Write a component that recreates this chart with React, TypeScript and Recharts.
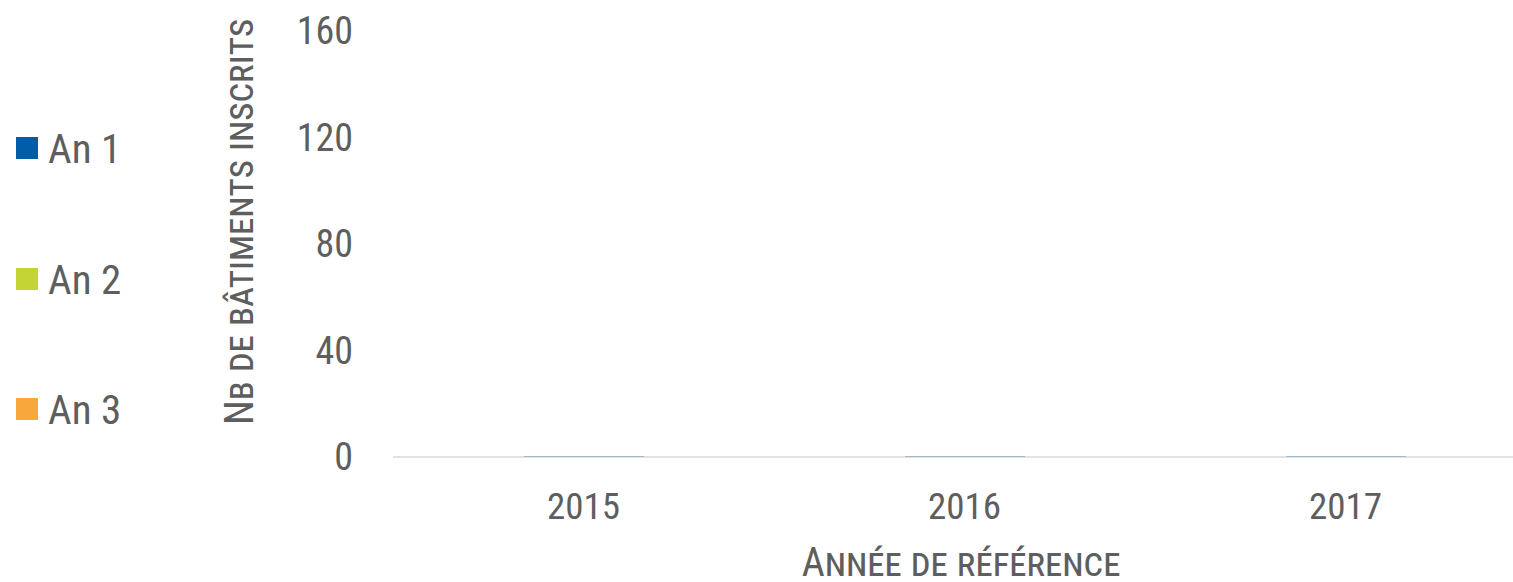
import React from "react";
import { BarChart, Bar, XAxis, YAxis, Legend } from "recharts";

const categories = ["2015", "2016", "2017"];
const an1 = [0.4, 0.4, 0.4];
const an2 = [0, 0, 0];
const an3 = [0, 0, 0];
const yTicks = [0, 40, 80, 120, 160];
const seriesNames = ["An 1", "An 2", "An 3"];
const seriesColors = ["#005DAA", "#C4D432", "#F8A73B"];

const data = categories.map((c, i) => ({
  year: c,
  [seriesNames[0]]: an1[i],
  [seriesNames[1]]: an2[i],
  [seriesNames[2]]: an3[i],
}));

const FONT = "'Liberation Sans Narrow', 'Roboto Condensed', Roboto, sans-serif";
const TEXT = "#5e5e5e";

const legendCenters = [148, 279, 409];

const LegendContent = (props: any) => {
  const payload = props.payload || [];
  return (
    <svg width={200} height={582} style={{ display: "block" }}>
      {payload.map((p: any, i: number) => (
        <g key={p.value}>
          <rect x={16} y={legendCenters[i] - 11} width={22} height={22} fill={p.color} />
          <text
            x={48}
            y={legendCenters[i] + 14.5}
            fontFamily={FONT}
            fontSize={41}
            fill={TEXT}
          >
            {p.value}
          </text>
        </g>
      ))}
    </svg>
  );
};

export default function App() {
  return (
    <div
      style={{
        position: "fixed",
        left: 0,
        top: 0,
        width: 1513,
        height: 582,
        overflow: "hidden",
        background: "#fff",
      }}
    >
      <BarChart
        width={1545}
        height={582}
        data={data}
        margin={{ top: 31, right: 9, bottom: 0, left: 0 }}
      >
        <XAxis
          dataKey="year"
          height={125}
          tickSize={0}
          tickMargin={36}
          axisLine={{ stroke: "#D9D9D9", strokeWidth: 1.5 }}
          tickLine={false}
          tick={{ fontFamily: FONT, fontSize: 37, fill: TEXT }}
        />
        <YAxis
          width={193}
          domain={[0, 160]}
          ticks={yTicks}
          tickSize={0}
          tickMargin={40}
          axisLine={false}
          tickLine={false}
          tick={{ fontFamily: FONT, fontSize: 38, fill: TEXT }}
        />
        <Legend
          layout="vertical"
          align="left"
          verticalAlign="middle"
          content={<LegendContent />}
          wrapperStyle={{ left: 0, top: 0, width: 200, height: 582 }}
        />
        {seriesNames.map((n, i) => (
          <Bar
            key={n}
            dataKey={n}
            stackId="a"
            fill={seriesColors[i]}
            barSize={120}
            isAnimationActive={false}
          />
        ))}
        <text
          x={253}
          y={222}
          transform="rotate(-90 253 222)"
          textAnchor="middle"
          fontFamily={FONT}
          fontSize={40}
          fill={TEXT}
          style={{ fontVariant: "small-caps" }}
        >
          Nb de bâtiments inscrits
        </text>
        <text
          x={961}
          y={576}
          textAnchor="middle"
          fontFamily={FONT}
          fontSize={40}
          fill={TEXT}
          style={{ fontVariant: "small-caps" }}
        >
          Année de référence
        </text>
      </BarChart>
    </div>
  );
}
